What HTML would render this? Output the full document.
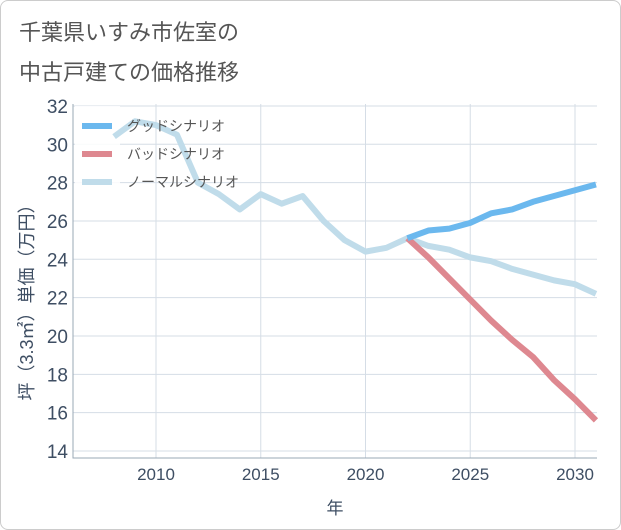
<!DOCTYPE html>
<html><head><meta charset="utf-8"><style>
body{margin:0;background:#fff;}
#wrap{position:relative;width:619px;height:528px;border:1px solid #ccc;border-radius:8px;background:#fff;overflow:hidden;}
.t{position:absolute;left:18px;font-family:"Liberation Sans","Noto Sans CJK JP",sans-serif;font-size:22px;color:#555;}
svg text{font-family:"Liberation Sans","Noto Sans CJK JP",sans-serif;}
</style></head><body>
<div id="wrap">
<div class="t" style="top:14px">千葉県いすみ市佐室の</div>
<div class="t" style="top:54px">中古戸建ての価格推移</div>
<svg id="c" width="621" height="530" style="position:absolute;left:-1px;top:-1px"></svg>
</div>
<script>
const years=[2008,2009,2010,2011,2012,2013,2014,2015,2016,2017,2018,2019,2020,2021,2022,2023,2024,2025,2026,2027,2028,2029,2030,2031];
const normal=[30.4,31.2,31.0,30.5,28.0,27.4,26.6,27.4,26.9,27.3,26.0,25.0,24.4,24.6,25.1,24.7,24.5,24.1,23.9,23.5,23.2,22.9,22.7,22.2];
const futureYears=[2022,2023,2024,2025,2026,2027,2028,2029,2030,2031];
const good=[25.1,25.5,25.6,25.9,26.4,26.6,27.0,27.3,27.6,27.9];
const bad=[25.1,24.1,23.0,21.9,20.8,19.8,18.9,17.7,16.7,15.6];
const yTicks=[14,16,18,20,22,24,26,28,30,32];
const xTicks=[2010,2015,2020,2025,2030];
const NS="http://www.w3.org/2000/svg";
const svg=document.getElementById('c');
const L=73,R=597,T=104,B=458;
const x=v=>156+(v-2010)*20.95;
const y=v=>451-(v-14)*19.17;
function el(t,a,p){const e=document.createElementNS(NS,t);for(const k in a)e.setAttribute(k,a[k]);(p||svg).appendChild(e);return e;}
yTicks.forEach(v=>{const g=el('line',{x1:L,x2:R,y1:y(v),y2:y(v),stroke:'#d5dde6','stroke-width':1});


const t=el('text',{x:L-5,y:y(v)+7,'text-anchor':'end','font-size':19,fill:'#3e4e63'});t.textContent=v;

});
xTicks.forEach(v=>{const g=el('line',{x1:x(v),x2:x(v),y1:T,y2:B,stroke:'#d5dde6','stroke-width':1});


const t=el('text',{x:x(v),y:480,'text-anchor':'middle','font-size':17,fill:'#3e4e63'});t.textContent=v;

});
const ax=el('path',{d:`M${L} ${T}V${B}H${R}`,fill:'none',stroke:'#9aa8b6','stroke-width':1});


const lg=el('rect',{x:L+2,y:T+2,width:45,height:96,fill:'#fff','fill-opacity':0.85});


function line(xs,ys,c,name){const p=el('polyline',{points:xs.map((v,i)=>x(v)+','+y(ys[i])).join(' '),fill:'none',stroke:c,'stroke-width':6,'stroke-linejoin':'round'});

}
line(years,normal,'#c0dcea','normal-scenario-line');
line(futureYears,bad,'#de8890','bad-scenario-line');
line(futureYears,good,'#6bb8ee','good-scenario-line');
const leg=[['グッドシナリオ','#6bb8ee'],['バッドシナリオ','#de8890'],['ノーマルシナリオ','#c0dcea']];
leg.forEach((d,i)=>{const yy=126+i*28;
const s=el('line',{x1:82,x2:112,y1:yy,y2:yy,stroke:d[1],'stroke-width':6});


const t=el('text',{x:127,y:yy+5,'font-size':14,fill:'#555'});t.textContent=d[0];

});
const xt=el('text',{x:335,y:514,'text-anchor':'middle','font-size':17,fill:'#3e4e63'});xt.textContent='年';


const yt=el('text',{x:0,y:0,'text-anchor':'middle','font-size':18,fill:'#3e4e63',transform:'translate(33,298) rotate(-90)'});yt.textContent='坪（3.3㎡）単価（万円）';


</script>
</body></html>
